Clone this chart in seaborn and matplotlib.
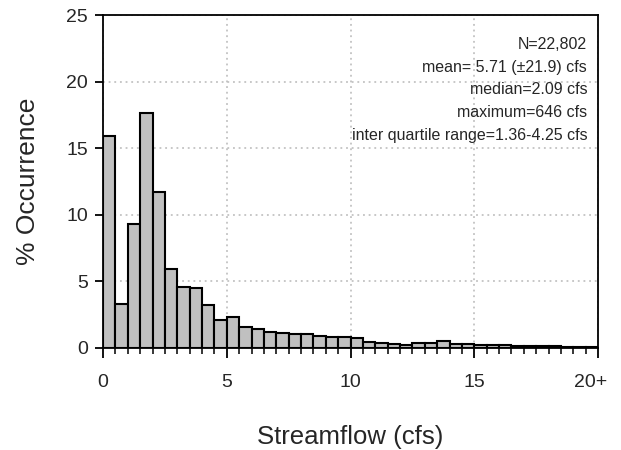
import numpy as np
import pandas as pd
import matplotlib
matplotlib.use('Agg')
import matplotlib.pyplot as plt
import matplotlib.transforms as mtransforms
import seaborn as sns
from matplotlib.ticker import MultipleLocator

# % occurrence per 0.5 cfs bin, 0 to 20+
bin_edges = list(np.arange(0, 20.5, 0.5))
pct = [15.9, 3.33, 9.3, 17.65, 11.72, 5.91, 4.6, 4.47, 3.2, 2.1,
       2.3, 1.57, 1.39, 1.21, 1.15, 1.04, 1.04, 0.86, 0.79, 0.79,
       0.74, 0.43, 0.36, 0.28, 0.25, 0.36, 0.38, 0.51, 0.28, 0.28,
       0.2, 0.2, 0.2, 0.13, 0.13, 0.13, 0.13, 0.08, 0.05, 0.05]
x_ticks = [0, 5, 10, 15, 20]
x_labels = ['0', '5', '10', '15', '20+']
stats = ["N=22,802",
         "mean= 5.71 (\u00b121.9) cfs",
         "median=2.09 cfs",
         "maximum=646 cfs",
         "inter quartile range=1.36-4.25 cfs"]

sns.set_style("ticks")
plt.rcParams['font.family'] = ['Liberation Sans', 'DejaVu Sans']

df = pd.DataFrame({'flow': [b + 0.25 for b in bin_edges[:-1]], 'pct': pct})
fig = plt.figure(figsize=(6.21, 4.5), dpi=100)
ax = fig.add_axes([0.166, 0.227, 0.797, 0.739])
sns.histplot(data=df, x='flow', weights='pct', bins=bin_edges, color='#c0c0c0',
             edgecolor='black', linewidth=1.5, alpha=1, ax=ax, zorder=3)

ax.set_xlim(0, 20)
ax.set_ylim(0, 25)
ax.set_xticks(x_ticks)
ax.set_xticklabels(x_labels)
ax.xaxis.set_minor_locator(MultipleLocator(0.5))
ax.set_yticks([0, 5, 10, 15, 20, 25])
ax.grid(True, color='#b8b8b8', linestyle=(0, (1.2, 2.5)), linewidth=1.1, zorder=0)
ax.set_axisbelow(True)
ax.tick_params(axis='both', labelsize=14, width=1.3, color='black')
ax.tick_params(axis='x', which='major', length=7, pad=12)
ax.tick_params(axis='x', which='minor', length=4.5, width=1.3)
ax.tick_params(axis='y', length=6, pad=5)
for s in ax.spines.values():
    s.set_color('black')
    s.set_linewidth(1.3)

# nudge the "20+" label left like the original
last = ax.get_xticklabels()[-1]
last.set_transform(last.get_transform() + mtransforms.ScaledTranslation(-5 / 72, 0, fig.dpi_scale_trans))

ax.set_xlabel('Streamflow (cfs)', fontsize=18.5, labelpad=24)
ax.set_ylabel('% Occurrence', fontsize=19, labelpad=19)

for i, line in enumerate(stats):
    ax.text(0.978, 0.912 - i * 0.068, line, transform=ax.transAxes,
            ha='right', va='center', fontsize=11.5, zorder=4)

fig.savefig('out.png', dpi=100)
